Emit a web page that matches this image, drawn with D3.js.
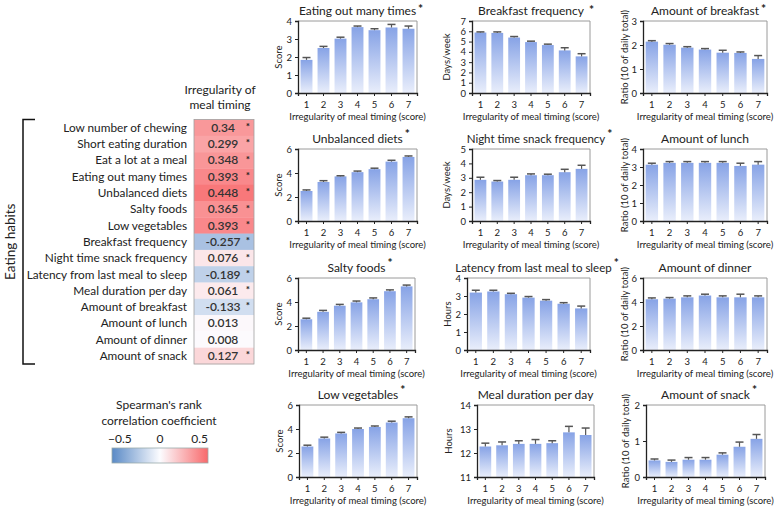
<!DOCTYPE html>
<html><head><meta charset="utf-8">
<script src="https://cdn.jsdelivr.net/npm/d3@7"></script>
<style>body{margin:0;background:#fff}svg{display:block;font-family:Lato,"Open Sans",sans-serif}</style>
</head><body><svg id="c" width="779" height="511"></svg>
<script>
// ---------- DATA ----------
const scoreCategories = [1,2,3,4,5,6,7];
const eatingOutMean = [1.84,2.50,3.02,3.66,3.49,3.64,3.57];
const eatingOutSE   = [0.13,0.09,0.08,0.06,0.08,0.17,0.15];
const breakfastFreqMean = [5.88,5.84,5.39,4.95,4.66,4.14,3.56];
const breakfastFreqSE   = [0.06,0.10,0.10,0.09,0.09,0.26,0.26];
const breakfastAmtMean = [2.14,2.01,1.89,1.81,1.68,1.67,1.42];
const breakfastAmtSE   = [0.04,0.05,0.04,0.04,0.10,0.04,0.14];
const unbalancedMean = [2.50,3.25,3.72,4.07,4.32,4.95,5.34];
const unbalancedSE   = [0.09,0.11,0.05,0.09,0.08,0.11,0.08];
const nightSnackMean = [2.86,2.74,2.86,3.18,3.18,3.39,3.62];
const nightSnackSE   = [0.18,0.07,0.18,0.09,0.07,0.20,0.25];
const lunchMean = [3.13,3.23,3.23,3.23,3.23,3.06,3.13];
const lunchSE   = [0.08,0.07,0.07,0.07,0.07,0.15,0.17];
const saltyMean = [2.56,3.18,3.69,3.97,4.23,4.90,5.30];
const saltySE   = [0.09,0.12,0.11,0.11,0.11,0.11,0.11];
const latencyMean = [3.19,3.25,3.10,2.91,2.74,2.57,2.31];
const latencySE   = [0.13,0.07,0.05,0.06,0.06,0.06,0.13];
const dinnerMean = [4.23,4.28,4.39,4.54,4.39,4.39,4.39];
const dinnerSE   = [0.11,0.09,0.12,0.11,0.12,0.26,0.12];
const vegMean = [2.54,3.21,3.63,4.00,4.17,4.54,4.90];
const vegSE   = [0.11,0.11,0.09,0.08,0.08,0.11,0.11];
const durationMean = [12.27,12.32,12.38,12.38,12.41,12.86,12.75];
const durationSE   = [0.14,0.14,0.13,0.18,0.10,0.25,0.29];
const snackMean = [0.46,0.42,0.48,0.48,0.62,0.84,1.06];
const snackSE   = [0.04,0.05,0.06,0.06,0.05,0.13,0.12];

const habitLabels = ["Low number of chewing","Short eating duration","Eat a lot at a meal","Eating out many times","Unbalanced diets","Salty foods","Low vegetables","Breakfast frequency","Night time snack frequency","Latency from last meal to sleep","Meal duration per day","Amount of breakfast","Amount of lunch","Amount of dinner","Amount of snack"];
const rhoValues = ["0.34","0.299","0.348","0.393","0.448","0.365","0.393","-0.257","0.076","-0.189","0.061","-0.133","0.013","0.008","0.127"];
const rhoSignificant = [1,1,1,1,1,1,1,1,1,1,1,1,0,0,1];
const legendTicks = [-0.5,0,0.5];

// ---------- LAYOUT ----------
const svg = d3.select("#c");
const xTitle = "Irregularity of meal timing (score)";
const rowTop = [21,149,278,405], plotH = 72;
const panels = [
 {t:"Eating out many times",s:"up",yl:"Score",d:[0,4],tk:[0,1,2,3,4],m:eatingOutMean,e:eatingOutSE,x0:298,x1:417,r:0,yo:19},
 {t:"Breakfast frequency",s:"in",yl:"Days/week",d:[0,7],tk:[0,1,2,3,4,5,6,7],m:breakfastFreqMean,e:breakfastFreqSE,x0:472,x1:590,r:0,yo:25},
 {t:"Amount of breakfast",s:"up",yl:"Ratio (10 of daily total)",d:[0,3],tk:[0,1,2,3],m:breakfastAmtMean,e:breakfastAmtSE,x0:643,x1:767,r:0,yo:18},
 {t:"Unbalanced diets",s:"up",yl:"Score",d:[0,6],tk:[0,2,4,6],m:unbalancedMean,e:unbalancedSE,x0:298,x1:417,r:1,yo:19},
 {t:"Night time snack frequency",s:"up",yl:"Days/week",d:[0,5],tk:[0,1,2,3,4,5],m:nightSnackMean,e:nightSnackSE,x0:472,x1:590,r:1,yo:25},
 {t:"Amount of lunch",s:"",yl:"Ratio (10 of daily total)",d:[0,4],tk:[0,1,2,3,4],m:lunchMean,e:lunchSE,x0:643,x1:767,r:1,yo:18},
 {t:"Salty foods",s:"up",yl:"Score",d:[0,6],tk:[0,2,4,6],m:saltyMean,e:saltySE,x0:298,x1:415,r:2,yo:19},
 {t:"Latency from last meal to sleep",s:"up",yl:"Hours",d:[0,4],tk:[0,1,2,3,4],m:latencyMean,e:latencySE,x0:467,x1:590,r:2,yo:19},
 {t:"Amount of dinner",s:"",yl:"Ratio (10 of daily total)",d:[0,6],tk:[0,2,4,6],m:dinnerMean,e:dinnerSE,x0:643,x1:767,r:2,yo:18},
 {t:"Low vegetables",s:"up",yl:"Score",d:[0,6],tk:[0,2,4,6],m:vegMean,e:vegSE,x0:299,x1:417,r:3,yo:19},
 {t:"Meal duration per day",s:"",yl:"Hours",d:[11,14],tk:[11,12,13,14],m:durationMean,e:durationSE,x0:477,x1:594,r:3,yo:28},
 {t:"Amount of snack",s:"up",yl:"Ratio (10 of daily total)",d:[0,2],tk:[0,1,2],m:snackMean,e:snackSE,x0:646,x1:765,r:3,yo:20}
];

const defs = svg.append("defs");
const grad = defs.append("linearGradient").attr("id","barG").attr("x1",0).attr("y1",0).attr("x2",0).attr("y2",1);
grad.append("stop").attr("offset","0%").attr("stop-color","#87a3e6");
grad.append("stop").attr("offset","100%").attr("stop-color","#e9eefb");

panels.forEach(p=>{
  const y0 = rowTop[p.r], y1 = y0+plotH;
  const x = d3.scaleBand().domain(scoreCategories).range([p.x0,p.x1]).paddingInner(0.3).paddingOuter(0.15);
  const y = d3.scaleLinear().domain(p.d).range([y1,y0]);
  const g = svg.append("g");
  g.append("path").attr("d",`M${p.x0},${y0}H${p.x1}V${y1}`).attr("fill","none").attr("stroke","#9a9a9a").attr("stroke-width",1);
  g.selectAll("rect.bar").data(scoreCategories).join("rect").attr("class","bar")
    .attr("x",d=>x(d)).attr("width",x.bandwidth())
    .attr("y",(d,i)=>y(p.m[i])).attr("height",(d,i)=>y1-y(p.m[i]))
    .attr("fill","url(#barG)");
  const eb = g.selectAll("g.eb").data(scoreCategories).join("g").attr("class","eb");
  eb.append("line").attr("x1",d=>x(d)+x.bandwidth()/2).attr("x2",d=>x(d)+x.bandwidth()/2)
    .attr("y1",(d,i)=>y(p.m[i])).attr("y2",(d,i)=>y(p.m[i]+p.e[i])).attr("stroke","#555").attr("stroke-width",1.2);
  eb.append("line").attr("x1",d=>x(d)+x.bandwidth()/2-4).attr("x2",d=>x(d)+x.bandwidth()/2+4)
    .attr("y1",(d,i)=>y(p.m[i]+p.e[i])).attr("y2",(d,i)=>y(p.m[i]+p.e[i])).attr("stroke","#555").attr("stroke-width",1.5);
  const ya = g.append("g").attr("transform",`translate(${p.x0},0)`).call(d3.axisLeft(y).tickValues(p.tk).tickSize(3).tickPadding(3).tickFormat(d3.format("d")));
  const xa = g.append("g").attr("transform",`translate(0,${y1})`).call(d3.axisBottom(x).tickSize(3).tickPadding(5));
  [ya,xa].forEach(a=>{a.select(".domain").attr("stroke","#222").attr("stroke-width",1.3);
    a.selectAll(".tick line").attr("stroke","#222");
    a.selectAll("text").attr("font-family","Lato").attr("font-size",9.5).attr("fill","#222");});
  const long = p.t.length>25;
  const tt = g.append("text").attr("x",(p.x0+p.x1)/2+(long?5:0)).attr("y",y0-6).attr("text-anchor","middle").attr("font-size",long?11.5:12).attr("fill","#222").text(p.t);
  if(p.s){
    const w = tt.node().getComputedTextLength();
    const ex = +tt.attr("x") + w/2;
    g.append("text").attr("x",ex+(p.s==="in"?5:2)).attr("y",p.s==="in"?y0-7:Math.max(y0-11,13)).attr("text-anchor","start").attr("font-size",12).attr("font-weight","bold").attr("fill","#222").text("*");
  }
  g.append("text").attr("x",(p.x0+p.x1)/2).attr("y",y1+27).attr("text-anchor","middle").attr("font-size",9.5).attr("fill","#222").text(xTitle);
  g.append("text").attr("transform",`translate(${p.x0-p.yo},${(y0+y1)/2}) rotate(-90)`).attr("text-anchor","middle").attr("font-size",9.5).attr("fill","#222").attr("dy","0.35em").text(p.yl);
});

// ---------- HEATMAP ----------
const hx0 = 194, hx1 = 254, hy0 = 119.5, hy1 = 364;
const hy = d3.scaleBand().domain(habitLabels).range([hy0,hy1]);
const color = d3.scaleLinear().domain([-0.5,0,0.5]).range(["#5a8ac6","#fcfcff","#f8696b"]).clamp(true);
const hm = svg.append("g");
hm.selectAll("rect").data(habitLabels).join("rect")
  .attr("x",hx0).attr("y",d=>hy(d)).attr("width",hx1-hx0).attr("height",hy.bandwidth()+0.3)
  .attr("fill",(d,i)=>color(+rhoValues[i]));
hm.append("rect").attr("x",hx0).attr("y",hy0).attr("width",hx1-hx0).attr("height",hy1-hy0).attr("fill","none").attr("stroke","#a0a0a0").attr("stroke-width",0.8);
hm.selectAll("text.lab").data(habitLabels).join("text").attr("class","lab")
  .attr("x",187).attr("y",d=>hy(d)+hy.bandwidth()/2+4.2).attr("text-anchor","end").attr("font-size",11.8).attr("fill","#222").text(d=>d);
hm.selectAll("text.val").data(habitLabels).join("text").attr("class","val")
  .attr("x",223).attr("y",d=>hy(d)+hy.bandwidth()/2+4.2).attr("text-anchor","middle").attr("font-size",12).attr("font-weight",600).attr("fill","#333").text((d,i)=>rhoValues[i]);
hm.selectAll("text.sig").data(habitLabels.filter((d,i)=>rhoSignificant[i])).join("text").attr("class","sig")
  .attr("x",248).attr("y",d=>hy(d)+hy.bandwidth()/2+2.5).attr("text-anchor","middle").attr("font-size",10).attr("font-weight","bold").attr("fill","#222").text("*");
hm.append("text").attr("x",220).attr("y",94).attr("text-anchor","middle").attr("font-size",12).attr("fill","#222").text("Irregularity of");
hm.append("text").attr("x",220).attr("y",109).attr("text-anchor","middle").attr("font-size",12).attr("fill","#222").text("meal timing");
hm.append("path").attr("d",`M35,${hy0}H23V${hy1}H35`).attr("fill","none").attr("stroke","#111").attr("stroke-width",1.5);
hm.append("text").attr("transform",`translate(10,${(hy0+hy1)/2}) rotate(-90)`).attr("text-anchor","middle").attr("font-size",13.5).attr("fill","#222").attr("dy","0.35em").text("Eating habits");

// ---------- LEGEND ----------
const lg = svg.append("g");
const lx = d3.scaleLinear().domain([-0.5,0.5]).range([112,208]);
const lgrad = defs.append("linearGradient").attr("id","legG");
legendTicks.forEach(v=>lgrad.append("stop").attr("offset",((v+0.5)*100)+"%").attr("stop-color",color(v)));
lg.append("text").attr("x",159).attr("y",409).attr("text-anchor","middle").attr("font-size",12).attr("fill","#222").text("Spearman's rank");
lg.append("text").attr("x",159).attr("y",425).attr("text-anchor","middle").attr("font-size",12).attr("fill","#222").text("correlation coefficient");
lg.selectAll("text.lt").data(legendTicks).join("text").attr("class","lt")
  .attr("x",d=>lx(d)).attr("y",443).attr("text-anchor",(d,i)=>i===0?"start":(i===2?"end":"middle"))
  .attr("dx",(d,i)=>i===0?-4:0)
  .attr("font-size",12).attr("fill","#222").text(d=>d===0?"0":d3.format(".1f")(d));
lg.append("rect").attr("x",lx(-0.5)).attr("y",448).attr("width",lx(0.5)-lx(-0.5)).attr("height",15).attr("fill","url(#legG)").attr("stroke","#9aa").attr("stroke-width",0.8);
</script></body></html>
